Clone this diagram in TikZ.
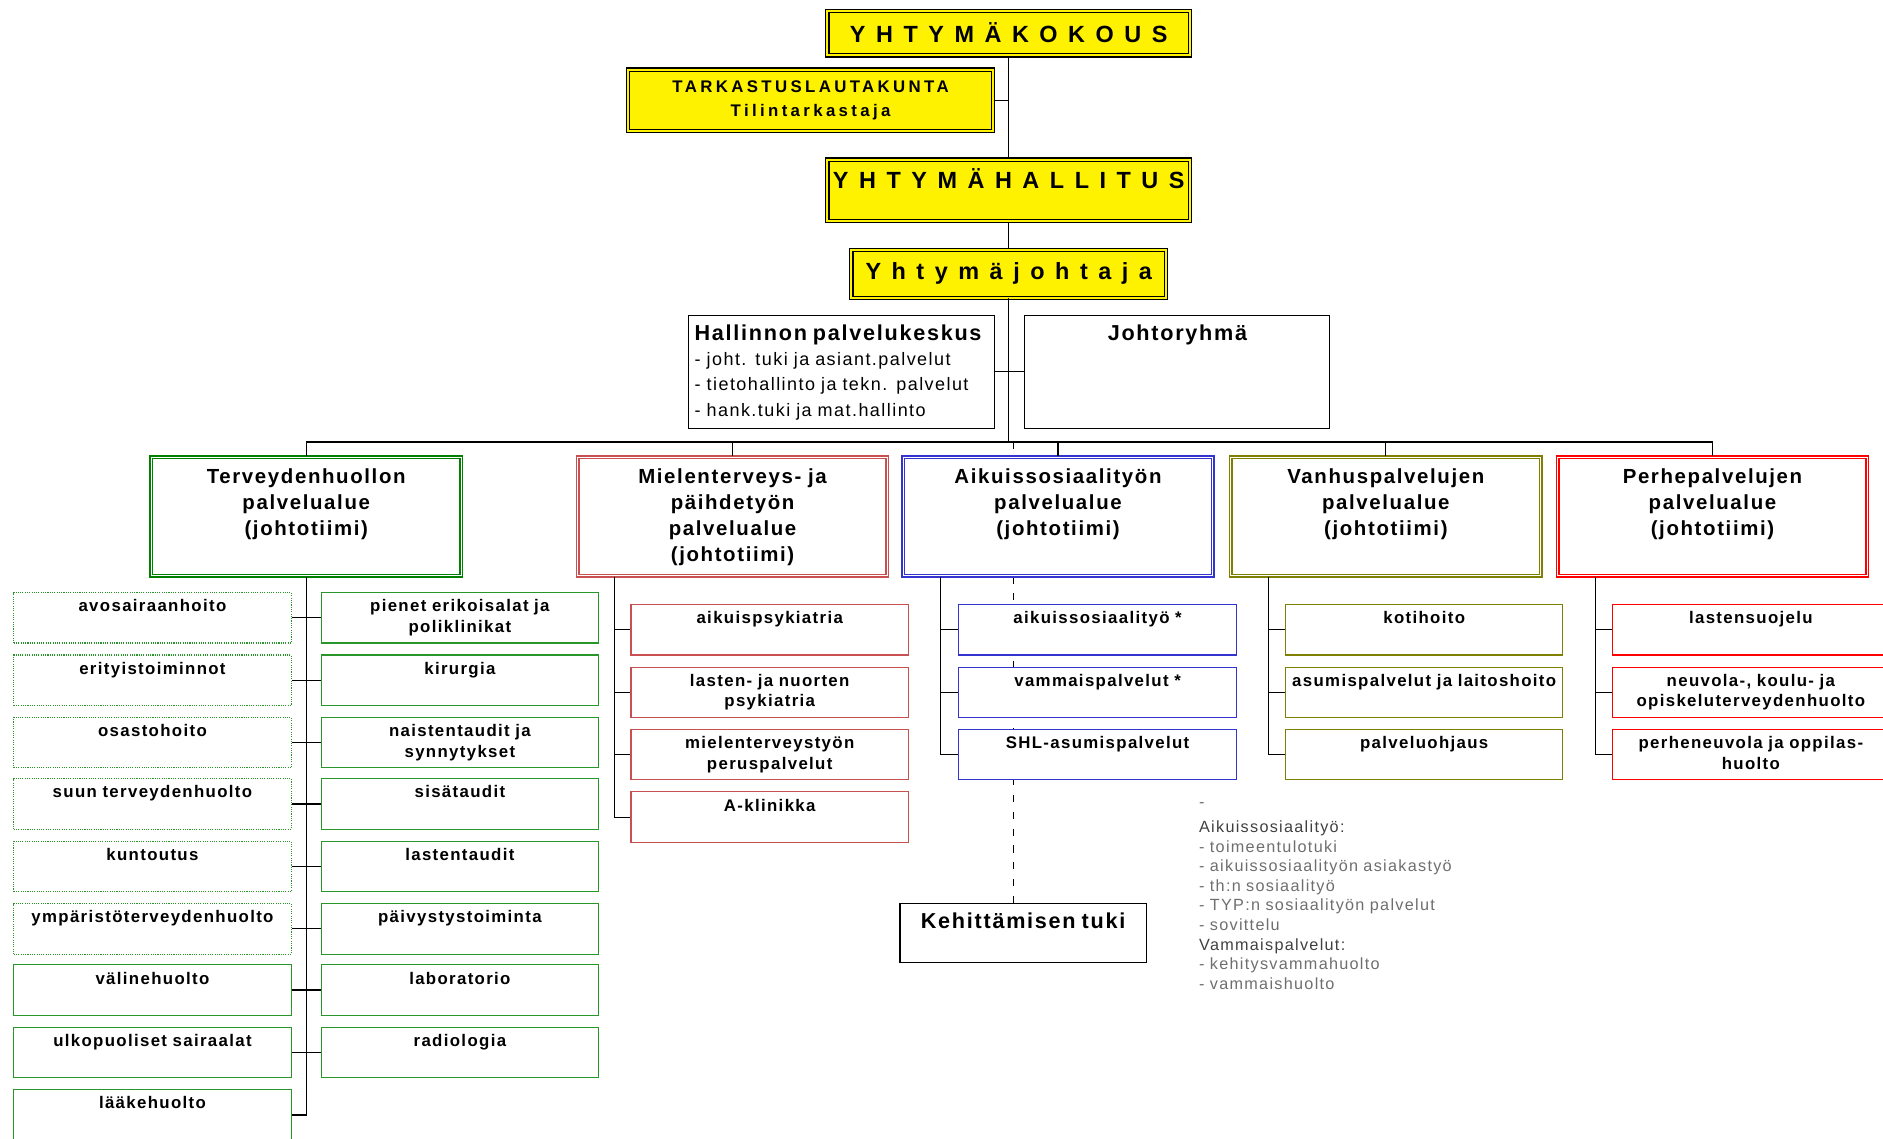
\documentclass[tikz,border=0pt]{standalone}
\usepackage{fontspec}
\setmainfont{Liberation Sans}[LetterSpace=8]
\newfontfamily\wideface{Liberation Sans}[LetterSpace=45]
\newfontfamily\tarkface{Liberation Sans}[LetterSpace=20]
\usetikzlibrary{positioning,backgrounds}
\definecolor{tgreen}{RGB}{0,128,0}
\definecolor{igreen}{RGB}{40,150,40}
\definecolor{mred}{RGB}{200,80,80}
\definecolor{ablue}{RGB}{51,51,210}
\definecolor{volive}{RGB}{128,128,0}
\definecolor{pred}{RGB}{255,0,0}
\definecolor{notegray}{RGB}{110,110,110}
\newcommand{\unitfont}{\fontsize{14}{17}\selectfont\bfseries}
\newcommand{\areafont}{\fontsize{17}{21.7}\selectfont\bfseries}
\tikzset{every picture/.style={line width=1pt}}
\tikzstyle{topbox}=[draw,fill=yellow,double=yellow,double distance=1.6pt,line width=1.1pt,inner sep=0pt,align=center]
\tikzstyle{areabox}=[draw,fill=white,double=white,double distance=0.9pt,line width=1.2pt,inner sep=0pt,anchor=north,text width=258pt,align=center,text height=22pt,text depth=77pt,font=\areafont]
\tikzstyle{unitbox}=[draw,fill=white,line width=0.9pt,inner sep=0pt,anchor=north west,text width=231pt,align=center,text height=16pt,text depth=26pt,font=\unitfont]
\tikzstyle{infobox}=[draw,fill=white,line width=0.9pt,inner xsep=5pt,inner ysep=0pt,anchor=north west,text width=245pt,text height=21pt,text depth=73pt,font=\fontsize{15}{21}\selectfont]

\begin{document}
\begin{tikzpicture}[x=1pt,y=-1pt]
\useasboundingbox (0,0) rectangle (1568,948);
% hallinto
\node[topbox,minimum width=302pt,minimum height=37pt] (kok) at (840,27.5) {\fontsize{19.5}{20}\wideface\bfseries YHTYMÄKOKOUS};
\node[topbox,minimum width=304pt,minimum height=51pt,font=\fontsize{14}{20}\tarkface\bfseries] (tark) at (675,83.5) {TARKASTUSLAUTAKUNTA\\Tilintarkastaja};
\node[topbox,text width=302pt,text height=24pt,text depth=27pt] (hall) at (840,158.5) {\fontsize{19.5}{20}\wideface\bfseries YHTYMÄHALLITUS};
\node[topbox,minimum width=262pt,minimum height=40pt] (johtaja) at (840,228) {\fontsize{19.5}{20}\wideface\bfseries Yhtymäjohtaja};
\node[infobox,align=left] (hpk) at (573,262) {{\fontsize{18}{21}\selectfont\bfseries Hallinnon palvelukeskus}\\- joht. tuki ja asiant.palvelut\\- tietohallinto ja tekn. palvelut\\- hank.tuki ja mat.hallinto};
\node[infobox,align=center,text width=244pt] (jr) at (853,262) {\fontsize{18}{21}\selectfont\bfseries Johtoryhmä};
\coordinate (bus) at (840,368);

% palvelualueet
\node[areabox,draw=tgreen] (terv) at (255,380) {Terveydenhuollon\\palvelualue\\(johtotiimi)};
\node[areabox,draw=mred] (miel) at (610,380) {Mielenterveys- ja\\päihdetyön\\palvelualue\\(johtotiimi)};
\node[areabox,draw=ablue] (aik) at (881,380) {Aikuissosiaalityön\\palvelualue\\(johtotiimi)};
\node[areabox,draw=volive] (van) at (1154,380) {Vanhuspalvelujen\\palvelualue\\(johtotiimi)};
\node[areabox,draw=pred] (per) at (1426,380) {Perhepalvelujen\\palvelualue\\(johtotiimi)};

% terveydenhuolto
\node[unitbox,draw=igreen,densely dotted] (l1) at (11,493) {avosairaanhoito};
\node[unitbox,draw=igreen,densely dotted] (l2) at (11,545) {erityistoiminnot};
\node[unitbox,draw=igreen,densely dotted] (l3) at (11,597) {osastohoito};
\node[unitbox,draw=igreen,densely dotted] (l4) at (11,648) {suun terveydenhuolto};
\node[unitbox,draw=igreen,densely dotted] (l5) at (11,700) {kuntoutus};
\node[unitbox,draw=igreen,densely dotted] (l6) at (11,752) {ympäristöterveydenhuolto};
\node[unitbox,draw=igreen] (l7) at (11,803) {välinehuolto};
\node[unitbox,draw=igreen] (l8) at (11,855) {ulkopuoliset sairaalat};
\node[unitbox,draw=igreen] (l9) at (11,907) {lääkehuolto};
\node[unitbox,draw=igreen] (r1) at (267,493) {pienet erikoisalat ja\\poliklinikat};
\node[unitbox,draw=igreen] (r2) at (267,545) {kirurgia};
\node[unitbox,draw=igreen] (r3) at (267,597) {naistentaudit ja\\synnytykset};
\node[unitbox,draw=igreen] (r4) at (267,648) {sisätaudit};
\node[unitbox,draw=igreen] (r5) at (267,700) {lastentaudit};
\node[unitbox,draw=igreen] (r6) at (267,752) {päivystystoiminta};
\node[unitbox,draw=igreen] (r7) at (267,803) {laboratorio};
\node[unitbox,draw=igreen] (r8) at (267,855) {radiologia};

% mielenterveys
\node[unitbox,draw=mred] (m1) at (525,503) {aikuispsykiatria};
\node[unitbox,draw=mred] (m2) at (525,555) {lasten- ja nuorten\\psykiatria};
\node[unitbox,draw=mred] (m3) at (525,607) {mielenterveystyön\\peruspalvelut};
\node[unitbox,draw=mred] (m4) at (525,659) {A-klinikka};

% aikuissosiaalityo
\node[unitbox,draw=ablue] (a1) at (798,503) {aikuissosiaalityö *};
\node[unitbox,draw=ablue] (a2) at (798,555) {vammaispalvelut *};
\node[unitbox,draw=ablue] (a3) at (798,607) {SHL-asumispalvelut};

% vanhuspalvelut
\node[unitbox,draw=volive] (v1) at (1070,503) {kotihoito};
\node[unitbox,draw=volive] (v2) at (1070,555) {asumispalvelut ja laitoshoito};
\node[unitbox,draw=volive] (v3) at (1070,607) {palveluohjaus};

% perhepalvelut
\node[unitbox,draw=pred] (p1) at (1342,503) {lastensuojelu};
\node[unitbox,draw=pred] (p2) at (1342,555) {neuvola-, koulu- ja\\opiskeluterveydenhuolto};
\node[unitbox,draw=pred] (p3) at (1342,607) {perheneuvola ja oppilas-\\huolto};

\node[infobox,align=center,text width=195pt,text height=21pt,text depth=28pt] (kehit) at (749,752) {\fontsize{18}{21}\selectfont\bfseries Kehittämisen tuki};
\node[anchor=base west,inner sep=0pt,align=left,text width=260pt,text=notegray,font=\fontsize{13.5}{16.3}\selectfont] (note) at (998,672) {-\\[5pt]
{\color{black!75}Aikuissosiaalityö:}\\- toimeentulotuki\\- aikuissosiaalityön asiakastyö\\- th:n sosiaalityö\\- TYP:n sosiaalityön palvelut\\- sovittelu\\
{\color{black!75}Vammaispalvelut:}\\- kehitysvammahuolto\\- vammaishuolto};

% yhteydet
\draw (kok.south) -- (hall.north);
\draw (tark.east) -- (tark.east -| kok.south);
\draw (hall.south) -- (johtaja.north);
\draw (johtaja.south) -- (bus);
\draw (hpk.east) -- (jr.west);
\draw (terv.north) |- (bus) -| (per.north);
\draw (miel.north) -- (miel.north |- bus);
\draw (aik.north) -- (aik.north |- bus);
\draw (van.north) -- (van.north |- bus);
\draw (terv.south) |- (l9.east);
\foreach \i in {1,...,8} \draw (l\i.east) -- (r\i.west);
\foreach \i in {1,...,4} \draw ([xshift=31pt]miel.south west) |- (m\i.west);
\foreach \i in {1,2,3} {
  \draw ([xshift=32pt]aik.south west) |- (a\i.west);
  \draw ([xshift=32pt]van.south west) |- (v\i.west);
  \draw ([xshift=32pt]per.south west) |- (p\i.west);
}
\begin{scope}[on background layer]
\draw[dash pattern=on 6pt off 8pt] ([xshift=4pt]bus) -- ([xshift=4pt]bus |- kehit.north);
\end{scope}
\end{tikzpicture}
\end{document}
